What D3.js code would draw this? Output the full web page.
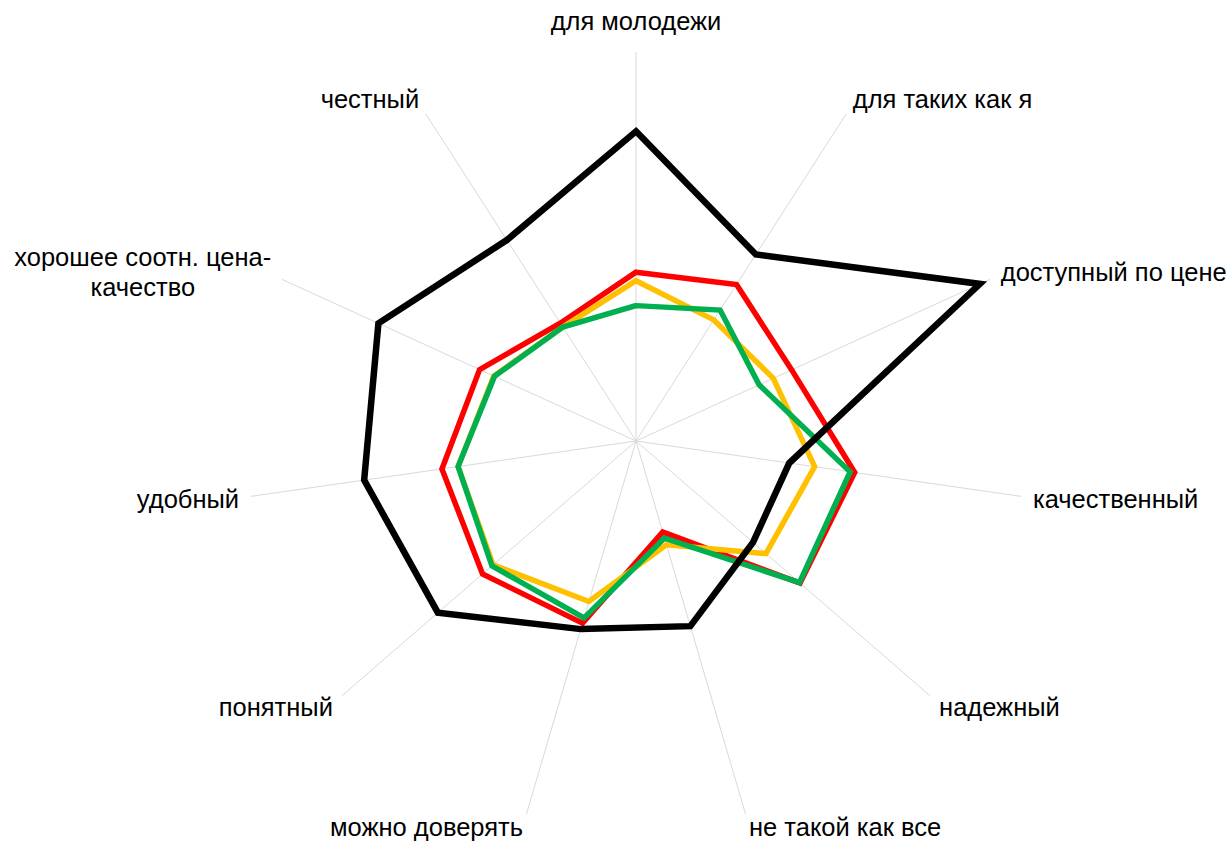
<!DOCTYPE html>
<html>
<head>
<meta charset="utf-8">
<script src="https://cdn.jsdelivr.net/npm/d3@7"></script>
<style>
  html, body { margin: 0; padding: 0; background: #fff; }
  text { font-family: "Liberation Sans", Arial, sans-serif; }
</style>
</head>
<body>
<svg id="chart" width="1231" height="842"></svg>
<script>
const categories = [
  "для молодежи",
  "для таких как я",
  "доступный по цене",
  "качественный",
  "надежный",
  "не такой как все",
  "можно доверять",
  "понятный",
  "удобный",
  "хорошее соотн. цена-\nкачество",
  "честный"
];

const seriesRed    = [21.7, 23.9, 22.0, 28.4, 27.9, 12.2, 24.4, 26.1, 25.2, 22.1, 18.0];
const seriesYellow = [20.6, 18.5, 19.4, 23.2, 22.1, 13.9, 21.5, 24.3, 23.1, 20.1, 17.4];
const seriesGreen  = [17.4, 20.0, 17.4, 27.8, 27.8, 13.0, 23.7, 24.5, 23.1, 20.0, 17.4];
const seriesBlack  = [39.8, 28.5, 48.6, 19.9, 19.9, 24.8, 25.2, 33.7, 35.3, 36.4, 30.7];

const axisMax = 50;

const series = [
  { values: seriesRed,    color: "#FF0000", width: 5.5 },
  { values: seriesYellow, color: "#FFC000", width: 5.5 },
  { values: seriesGreen,  color: "#00B050", width: 5.5 },
  { values: seriesBlack,  color: "#000000", width: 6.5 }
];

const svg = d3.select("#chart");
const cx = 636, cy = 441, R = 389;
const g = svg.append("g").attr("transform", `translate(${cx},${cy})`);

const n = categories.length;
const angle = d3.scaleLinear().domain([0, n]).range([0, 2 * Math.PI]);
const r = d3.scaleLinear().domain([0, axisMax]).range([0, R]);

// spokes
categories.forEach((c, i) => {
  const a = angle(i);
  g.append("line")
    .attr("x1", 0).attr("y1", 0)
    .attr("x2", R * Math.sin(a)).attr("y2", -R * Math.cos(a))
    .attr("stroke", "#d9d9d9").attr("stroke-width", 1);
});

// series lines
const line = d3.lineRadial()
  .angle((d, i) => angle(i))
  .radius(d => r(d))
  .curve(d3.curveLinearClosed);

series.forEach(s => {
  g.append("path")
    .attr("d", line(s.values))
    .attr("fill", "none")
    .attr("stroke", s.color)
    .attr("stroke-width", s.width)
    .attr("stroke-linejoin", "miter")
    .attr("stroke-miterlimit", 10);
});

// labels
const fontSize = 25.5, lineH = 30;
categories.forEach((c, i) => {
  const a = angle(i);
  const sx = Math.sin(a), cyv = -Math.cos(a);
  const px = (R + 12) * sx, py = (R + 12) * cyv;
  const lines = c.split("\n");
  const t = g.append("text")
    .attr("font-size", fontSize)
    .attr("fill", "#000")
    .attr("text-anchor", "middle");
  lines.forEach((ln, k) => {
    t.append("tspan").attr("x", 0).attr("dy", k === 0 ? 0 : lineH).text(ln);
  });
  let w = 0;
  t.selectAll("tspan").each(function () { w = Math.max(w, this.getComputedTextLength()); });
  let centerX, centerY;
  if (Math.abs(sx) < 0.1) {
    centerX = px;
    centerY = py + cyv * 19;
  } else {
    centerX = sx > 0 ? px + w / 2 : px - w / 2;
    centerY = py + cyv * (cyv > 0.9 ? 1.5 : 5);
  }
  const blockH = (lines.length - 1) * lineH;
  const firstBaseline = centerY - blockH / 2 + fontSize * 0.35;
  t.attr("transform", `translate(${centerX},${firstBaseline})`);
});
</script>
</body>
</html>
